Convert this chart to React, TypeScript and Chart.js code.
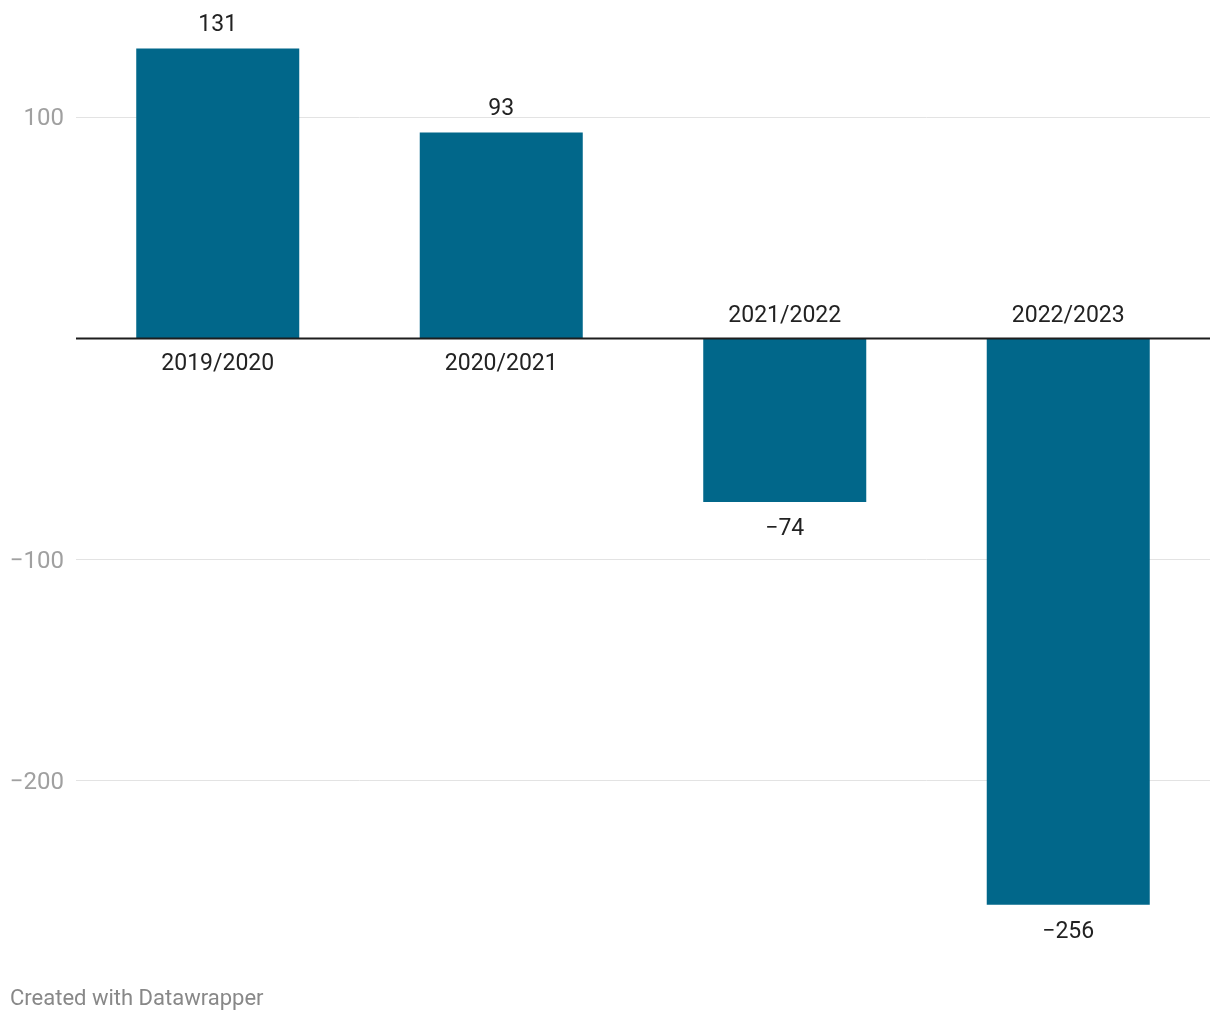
import React, { useEffect, useRef } from "react";
import { Chart, registerables } from "chart.js";

Chart.register(...registerables);

const categories = ["2019/2020", "2020/2021", "2021/2022", "2022/2023"];
const values = [131, 93, -74, -256];
const yTicks = [-200, -100, 0, 100];
const footerText = "Created with Datawrapper";

const fmt = (v: number) => (v < 0 ? "\u2212" + Math.abs(v) : String(v));

export default function App() {
  const ref = useRef<HTMLCanvasElement | null>(null);

  useEffect(() => {
    document.body.style.margin = "0";
    const canvas = ref.current;
    if (!canvas) return;

    const labelPlugin = {
      id: "labels",
      afterDatasetsDraw(chart: any) {
        const ctx = chart.ctx;
        const { left, right } = chart.chartArea;
        const yScale = chart.scales.y;
        const y0 = yScale.getPixelForValue(0);
        ctx.save();
        // y tick labels
        ctx.font = "24px Roboto";
        ctx.fillStyle = "#a0a0a0";
        ctx.textAlign = "right";
        ctx.textBaseline = "middle";
        yTicks.forEach((t) => {
          if (t === 0) return;
          ctx.fillText(fmt(t), left - 12, yScale.getPixelForValue(t) + 2);
        });
        // zero line
        ctx.strokeStyle = "#1d1d1d";
        ctx.lineWidth = 2;
        ctx.beginPath();
        ctx.moveTo(left, y0);
        ctx.lineTo(right, y0);
        ctx.stroke();

        const meta = chart.getDatasetMeta(0);
        ctx.font = "23px Roboto";
        ctx.fillStyle = "#222222";
        ctx.textAlign = "center";
        ctx.textBaseline = "middle";
        meta.data.forEach((bar: any, i: number) => {
          const v = values[i];
          const x = bar.x;
          const yEnd = yScale.getPixelForValue(v);
          if (v >= 0) {
            ctx.fillText(fmt(v), x, yEnd - 23);
            ctx.fillText(categories[i], x, y0 + 26);
          } else {
            ctx.fillText(fmt(v), x, yEnd + 27);
            ctx.fillText(categories[i], x, y0 - 22);
          }
        });

        ctx.font = "22px Roboto";
        ctx.fillStyle = "#888888";
        ctx.textAlign = "left";
        ctx.fillText(footerText, 10, 999);
        ctx.restore();
      },
    };

    const chart = new Chart(canvas, {
      type: "bar",
      data: {
        labels: categories,
        datasets: [
          {
            data: values,
            backgroundColor: "#01678a",
            borderWidth: 0,
            categoryPercentage: 1,
            barPercentage: 0.575,
          },
        ],
      },
      options: {
        animation: false,
        responsive: true,
        maintainAspectRatio: false,
        layout: { padding: { top: 6.5, bottom: 40, left: 76, right: 10 } },
        plugins: {
          legend: { display: false },
          tooltip: { enabled: false },
        },
        scales: {
          x: { display: false },
          y: {
            min: -290,
            max: 150,
            border: { display: false },
            afterBuildTicks: (scale: any) => {
              scale.ticks = yTicks.map((v) => ({ value: v }));
            },
            afterFit: (scale: any) => {
              scale.width = 0;
            },
            grid: {
              drawTicks: false,
              color: (c: any) => (c.tick && c.tick.value === 0 ? "rgba(0,0,0,0)" : "#e3e3e3"),
              lineWidth: 1,
            },
            ticks: { display: false },
          },
        },
      },
      plugins: [labelPlugin],
    });
    return () => chart.destroy();
  }, []);

  return (
    <div style={{ width: 1220, height: 1020, position: "relative", background: "#fff" }}>
      <canvas ref={ref} />
    </div>
  );
}
